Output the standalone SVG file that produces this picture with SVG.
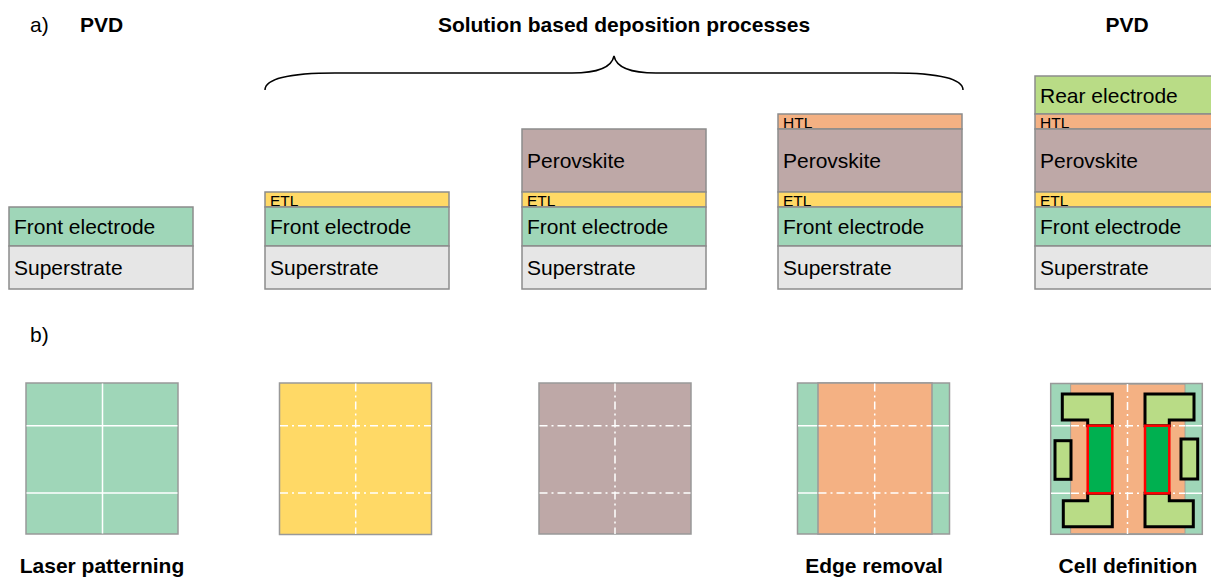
<svg xmlns="http://www.w3.org/2000/svg" width="1211" height="577" viewBox="0 0 1211 577">
<style>
text{font-family:"Liberation Sans",Arial,sans-serif;fill:#000}
.t{font-size:21px}
.s{font-size:15.5px}
.b{font-size:21px;font-weight:bold}
.c{text-anchor:middle}
.L{stroke:#8c8c8c;stroke-width:1.5}
.fe{fill:#9fd6b8}
.su{fill:#e6e6e6}
.etl{fill:#ffd966}
.pv{fill:#bea8a7}
.htl{fill:#f4b183}
.re{fill:#b9dc86}
.sq{stroke:#999;stroke-width:1.5}
.wl{stroke:#fff;stroke-width:1.5;fill:none}
.dd{stroke:#fff;stroke-width:1.5;fill:none;stroke-dasharray:8 4 2 4}
.rs{fill:#b9dc86;stroke:#000;stroke-width:3}
.cell{fill:#00b050;stroke:#ff0000;stroke-width:2.5}
</style>
<g id="labels">
<text class="t" x="30" y="32">a)</text>
<text class="b" x="80" y="32">PVD</text>
<text class="b c" x="624" y="32">Solution based deposition processes</text>
<text class="b c" x="1127" y="32">PVD</text>
<text class="t" x="30" y="342">b)</text>
<text class="b c" x="102" y="573">Laser patterning</text>
<text class="b c" x="874" y="573">Edge removal</text>
<text class="b c" x="1128" y="573">Cell definition</text>
</g>
<g id="connectors">
<path d="M265,90 C265,79 290,73 335,73 L572,73 C600,73 612,66 614,56 C616,66 628,73 656,73 L893,73 C938,73 963,79 963,90" fill="none" stroke="#000" stroke-width="1.5"/>
</g>
<g id="stack1">
<rect class="fe L" x="9" y="207" width="184" height="39"/>
<rect class="su L" x="9" y="246" width="184" height="43"/>
<text class="t" x="14" y="234">Front electrode</text>
<text class="t" x="14" y="275">Superstrate</text>
</g>
<g id="stack2">
<rect class="etl L" x="265" y="192" width="184" height="15"/>
<rect class="fe L" x="265" y="207" width="184" height="39"/>
<rect class="su L" x="265" y="246" width="184" height="43"/>
<text class="s" x="270" y="206">ETL</text>
<text class="t" x="270" y="234">Front electrode</text>
<text class="t" x="270" y="275">Superstrate</text>
</g>
<g id="stack3">
<rect class="pv L" x="522" y="129" width="184" height="63"/>
<rect class="etl L" x="522" y="192" width="184" height="15"/>
<rect class="fe L" x="522" y="207" width="184" height="39"/>
<rect class="su L" x="522" y="246" width="184" height="43"/>
<text class="t" x="527" y="168">Perovskite</text>
<text class="s" x="527" y="206">ETL</text>
<text class="t" x="527" y="234">Front electrode</text>
<text class="t" x="527" y="275">Superstrate</text>
</g>
<g id="stack4">
<rect class="htl L" x="778" y="114" width="184" height="15"/>
<rect class="pv L" x="778" y="129" width="184" height="63"/>
<rect class="etl L" x="778" y="192" width="184" height="15"/>
<rect class="fe L" x="778" y="207" width="184" height="39"/>
<rect class="su L" x="778" y="246" width="184" height="43"/>
<text class="s" x="783" y="128">HTL</text>
<text class="t" x="783" y="168">Perovskite</text>
<text class="s" x="783" y="206">ETL</text>
<text class="t" x="783" y="234">Front electrode</text>
<text class="t" x="783" y="275">Superstrate</text>
</g>
<g id="stack5">
<rect class="re L" x="1035" y="76" width="184" height="38"/>
<rect class="htl L" x="1035" y="114" width="184" height="15"/>
<rect class="pv L" x="1035" y="129" width="184" height="63"/>
<rect class="etl L" x="1035" y="192" width="184" height="15"/>
<rect class="fe L" x="1035" y="207" width="184" height="39"/>
<rect class="su L" x="1035" y="246" width="184" height="43"/>
<text class="t" x="1040" y="103">Rear electrode</text>
<text class="s" x="1040" y="128">HTL</text>
<text class="t" x="1040" y="168">Perovskite</text>
<text class="s" x="1040" y="206">ETL</text>
<text class="t" x="1040" y="234">Front electrode</text>
<text class="t" x="1040" y="275">Superstrate</text>
</g>
<g id="square1">
<rect class="fe sq" x="26" y="383" width="152" height="151"/>
<path class="wl" d="M102.5,383.5V533.5M26.5,425.7H177.5M26.5,493H177.5"/>
</g>
<g id="square2">
<rect class="etl sq" x="279.5" y="383" width="152" height="151.5"/>
<path class="dd" d="M355.7,383.5V534M280,425.7H431M280,493H431"/>
</g>
<g id="square3">
<rect class="pv sq" x="539" y="383" width="152" height="151"/>
<path class="dd" d="M615,383.5V534M539.5,425.7H690.5M539.5,493H690.5"/>
</g>
<g id="square4">
<rect class="fe sq" x="797.5" y="383" width="152" height="151"/>
<path class="wl" d="M798,425.7H818M798,493H818M932,425.7H949M932,493H949"/>
<rect class="htl sq" x="818" y="383" width="114" height="151"/>
<path class="dd" d="M874.7,383.5V534M818.5,425.7H931.5M818.5,493H931.5"/>
</g>
<g id="square5">
<rect class="fe sq" x="1050.7" y="383.5" width="151.6" height="150.8"/>
<path class="wl" d="M1051,425.7H1071M1051,493.3H1071M1185,425.7H1202M1185,493.3H1202"/>
<rect class="htl" x="1070.7" y="384.2" width="114.3" height="149.4" stroke="#999" stroke-width="0.8"/>
<path class="dd" d="M1127.5,384V534M1071,425.7H1185M1071,493.3H1185"/>
<rect class="rs" x="1055" y="440.7" width="16" height="38.6"/>
<rect class="rs" x="1181" y="439" width="16.7" height="40"/>
<path class="rs" d="M1062.3,394H1112.3V425.7H1087.7V420H1062.3Z"/>
<path class="rs" d="M1087.7,493.3V500.7H1063.3V526.7H1112.3V493.3Z"/>
<rect class="cell" x="1087.7" y="425.7" width="24.6" height="67.6"/>
<path class="rs" d="M1145,394H1194V420H1169.3V425.7H1145Z"/>
<path class="rs" d="M1169.3,493.3V500.7H1193.3V526.7H1145V493.3Z"/>
<rect class="cell" x="1145" y="425.7" width="24.3" height="67.6"/>
</g>
</svg>
